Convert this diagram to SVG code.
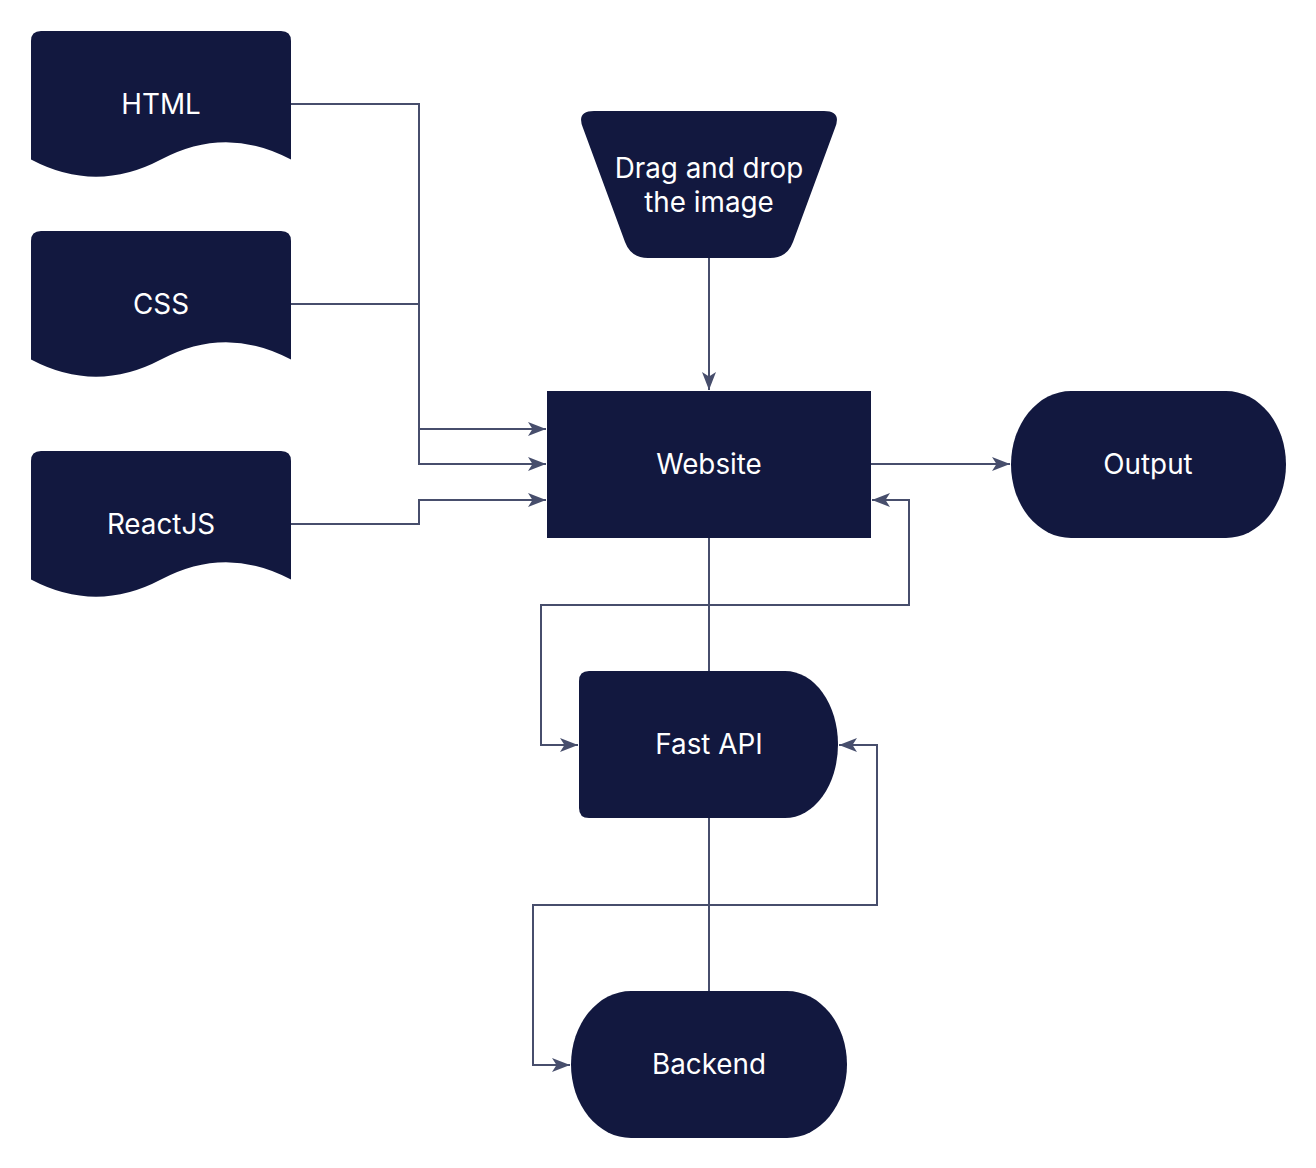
<svg xmlns="http://www.w3.org/2000/svg" width="1316" height="1168" viewBox="0 0 1316 1168">
<style>
.n{fill:#12183F;}
.t{fill:#FFFFFF;font-family:Inter,"Noto Sans",sans-serif;font-size:27.8px;text-anchor:middle;dominant-baseline:central;}
.c{fill:none;stroke:#474E6C;stroke-width:2;}
</style>
<defs>
<marker id="ah" markerWidth="20" markerHeight="16" refX="19" refY="8" orient="auto" markerUnits="userSpaceOnUse">
<path d="M1,1 L19,8 L1,15 L5.5,8 Z" fill="#474E6C"/>
</marker>
</defs>
<rect width="1316" height="1168" fill="#FFFFFF"/>
<g id="connectors">
<path class="c" d="M291,104 H419 V464 H546" marker-end="url(#ah)"/>
<path class="c" d="M291,304 H419 V429 H546" marker-end="url(#ah)"/>
<path class="c" d="M291,524 H419 V500 H546" marker-end="url(#ah)"/>
<path class="c" d="M709,258 V390" marker-end="url(#ah)"/>
<path class="c" d="M871,464 H1010" marker-end="url(#ah)"/>
<path class="c" d="M709,538 V605 H541 V745 H578" marker-end="url(#ah)"/>
<path class="c" d="M709,671 V605 H909 V500 H872" marker-end="url(#ah)"/>
<path class="c" d="M709,818 V905 H533 V1065 H570" marker-end="url(#ah)"/>
<path class="c" d="M709,991 V905 H877 V745 H839" marker-end="url(#ah)"/>
</g>
<g id="html">
<path class="n" d="M31,41 Q31,31 41,31 H281 Q291,31 291,41 V159.6 Q226,125 161,159.6 Q96,194 31,159.6 Z"/>
<text class="t" x="161" y="104">HTML</text>
</g>
<g id="css">
<path class="n" d="M31,241 Q31,231 41,231 H281 Q291,231 291,241 V359.6 Q226,325 161,359.6 Q96,394 31,359.6 Z"/>
<text class="t" x="161" y="304">CSS</text>
</g>
<g id="reactjs">
<path class="n" d="M31,461 Q31,451 41,451 H281 Q291,451 291,461 V579.6 Q226,545 161,579.6 Q96,614 31,579.6 Z"/>
<text class="t" x="161" y="524">ReactJS</text>
</g>
<g id="drag">
<path class="n" d="M594,111 H824 Q842,111 835,128 L793,242 Q787,258 770,258 H648 Q631,258 625,242 L583,128 Q576,111 594,111 Z"/>
<text class="t" x="709" y="168">Drag and drop</text>
<text class="t" x="709" y="202">the image</text>
</g>
<g id="website">
<rect class="n" x="547" y="391" width="324" height="147"/>
<text class="t" x="709" y="464">Website</text>
</g>
<g id="output">
<path class="n" d="M1071,391 H1226 A60,73.5 0 0 1 1226,538 H1071 A60,73.5 0 0 1 1071,391 Z"/>
<text class="t" x="1148" y="464">Output</text>
</g>
<g id="fastapi">
<path class="n" d="M589,671 H785 A53,73.5 0 0 1 785,818 H589 Q579,818 579,808 V681 Q579,671 589,671 Z"/>
<text class="t" x="709" y="744">Fast API</text>
</g>
<g id="backend">
<path class="n" d="M631,991 H787 A60,73.5 0 0 1 787,1138 H631 A60,73.5 0 0 1 631,991 Z"/>
<text class="t" x="709" y="1064">Backend</text>
</g>
</svg>
